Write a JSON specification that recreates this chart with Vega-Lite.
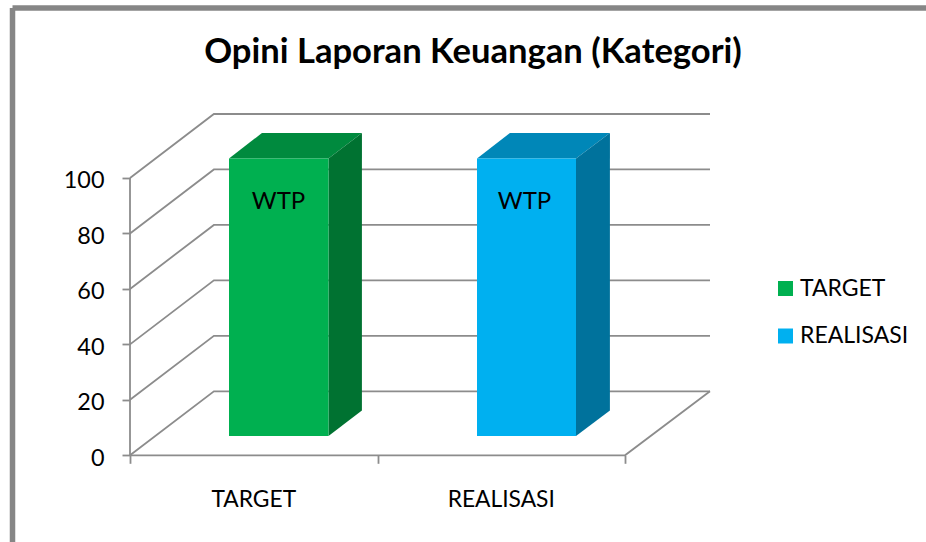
{
"$schema":"https://vega.github.io/schema/vega-lite/v6.json",
"width":580,"height":342.3,
"autosize":{"type":"none"},
"padding":{"left":130,"top":113,"right":216,"bottom":86.7},
"background":"white",
"config":{"view":{"stroke":null},"font":"Lato"},
"title":{"text":"Opini Laporan Keuangan (Kategori)","font":"Lato","fontSize":34.6,"fontWeight":"bold","color":"black","anchor":"middle","dx":53,"offset":-65},
"datasets":{
"frame":[{"x":-0.4747,"y":161.3,"y2":-32.3,"x2":3.232}],
"wall":[{"x":0,"y":0,"y2":100}],
"grid":[
{"level":0,"x":0,"y":0},{"level":0,"x":0.339,"y":23.08},{"level":0,"x":2.3434,"y":23.08},
{"level":20,"x":0,"y":20},{"level":20,"x":0.339,"y":43.08},{"level":20,"x":2.3434,"y":43.08},
{"level":40,"x":0,"y":40},{"level":40,"x":0.339,"y":63.08},{"level":40,"x":2.3434,"y":63.08},
{"level":60,"x":0,"y":60},{"level":60,"x":0.339,"y":83.08},{"level":60,"x":2.3434,"y":83.08},
{"level":80,"x":0,"y":80},{"level":80,"x":0.339,"y":103.08},{"level":80,"x":2.3434,"y":103.08},
{"level":100,"x":0,"y":100},{"level":100,"x":0.339,"y":123.08},{"level":100,"x":2.3434,"y":123.08},
{"level":-1,"x":0,"y":0},{"level":-1,"x":2,"y":0},{"level":-1,"x":2.3434,"y":23.08}
],
"faces":[
{"face":"TARGET top","x":0.4,"y":107.03,"y2":107.03},
{"face":"TARGET top","x":0.533,"y":116.23,"y2":107.03},
{"face":"TARGET top","x":0.802,"y":116.23,"y2":107.03},
{"face":"TARGET top","x":0.937,"y":116.23,"y2":116.23},
{"face":"TARGET side","x":0.802,"y":107.03,"y2":6.96},
{"face":"TARGET side","x":0.937,"y":116.23,"y2":16.12},
{"face":"REALISASI top","x":1.402,"y":107.03,"y2":107.03},
{"face":"REALISASI top","x":1.535,"y":116.23,"y2":107.03},
{"face":"REALISASI top","x":1.802,"y":116.23,"y2":107.03},
{"face":"REALISASI top","x":1.939,"y":116.23,"y2":116.23},
{"face":"REALISASI side","x":1.802,"y":107.03,"y2":6.96},
{"face":"REALISASI side","x":1.939,"y":116.23,"y2":16.12}
],
"bars":[
{"face":"TARGET","x":0.4,"x2":0.802,"y":107.03,"y2":6.96},
{"face":"REALISASI","x":1.402,"x2":1.802,"y":107.03,"y2":6.96}
],
"wtp":[{"label":"WTP","x":0.6,"y":91.3},{"label":"WTP","x":1.594,"y":91.3}],
"cats":[{"label":"TARGET","x":0.5,"y":-16},{"label":"REALISASI","x":1.5,"y":-16}]
},
"encoding":{
"x":{"field":"x","type":"quantitative","title":null,"scale":{"domain":[0,2.3434],"nice":false,"zero":false},
"axis":{"values":[0,1,2],"labels":false,"domain":false,"grid":false,"ticks":true,"tickSize":8,"tickColor":"#8c8c8c","tickWidth":1.8,"title":null}},
"y":{"field":"y","type":"quantitative","title":null,"stack":null,"scale":{"domain":[0,123.44],"nice":false,"zero":false},
"axis":{"values":[0,20,40,60,80,100],"domain":false,"grid":false,"ticks":true,"tickSize":8,"tickColor":"#8c8c8c","tickWidth":1.8,"labelFont":"Lato","labelFontSize":23.4,"labelColor":"black","labelPadding":18,"labelOffset":3,"format":"d","title":null}}
},
"layer":[
{"data":{"name":"frame"},"mark":{"type":"rule","color":"#868686","strokeWidth":5.5},"encoding":{"y2":{"field":"y2"}}},
{"data":{"name":"frame"},"mark":{"type":"rule","color":"#868686","strokeWidth":5.5},"encoding":{"y":{"field":"y","type":"quantitative"},"x2":{"field":"x2"}}},
{"data":{"name":"wall"},"mark":{"type":"rule","color":"#8c8c8c","strokeWidth":1.8},"encoding":{"y2":{"field":"y2"}}},
{"data":{"name":"grid"},"mark":{"type":"line","color":"#8c8c8c","strokeWidth":1.8},"encoding":{"detail":{"field":"level"}}},
{"data":{"name":"faces"},"mark":{"type":"area","opacity":1},"encoding":{"y2":{"field":"y2"},"color":{"field":"face","type":"nominal"}}},
{"data":{"name":"bars"},"mark":{"type":"rect"},"encoding":{"x2":{"field":"x2"},"y2":{"field":"y2"},
"color":{"field":"face","type":"nominal","scale":{"domain":["TARGET","REALISASI","TARGET top","TARGET side","REALISASI top","REALISASI side"],"range":["#00B050","#00B0F0","#008A3E","#007231","#0087B8","#00729C"]},
"legend":{"values":["TARGET","REALISASI"],"title":null,"orient":"none","legendX":644,"legendY":164,"symbolType":"square","symbolSize":225,"symbolStrokeWidth":0,"symbolOpacity":1,"labelFont":"Lato","labelFontSize":23,"labelColor":"black","labelOffset":3,"rowPadding":23.5}}}},
{"data":{"name":"wtp"},"mark":{"type":"text","font":"Lato","fontSize":24,"color":"black"},"encoding":{"text":{"field":"label"}}},
{"data":{"name":"cats"},"mark":{"type":"text","font":"Lato","fontSize":22.8,"color":"black"},"encoding":{"text":{"field":"label"}}}
]
}
